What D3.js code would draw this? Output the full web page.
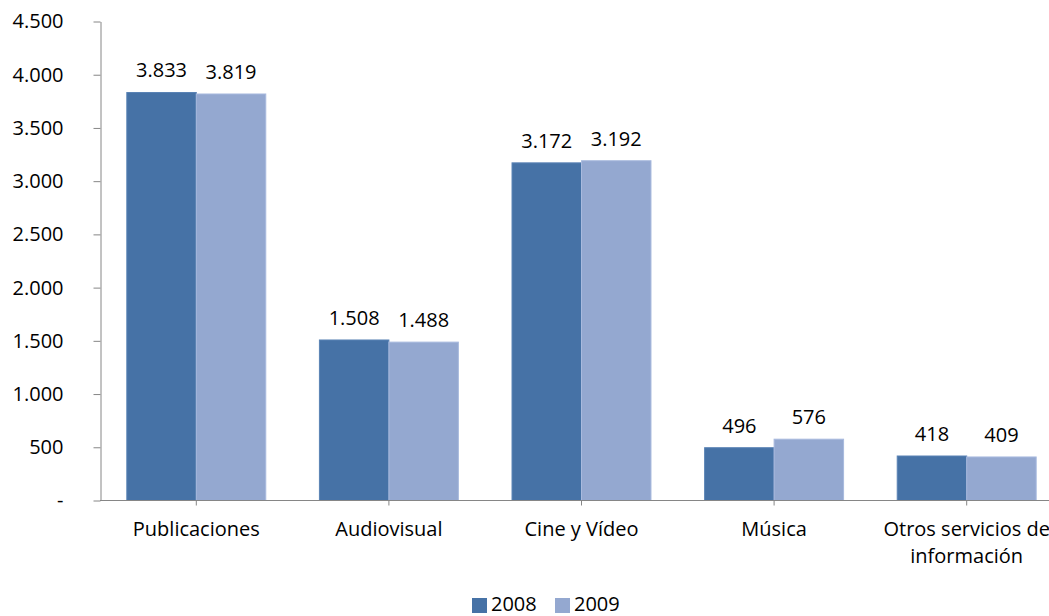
<!DOCTYPE html>
<html>
<head>
<meta charset="utf-8">
<script src="https://cdn.jsdelivr.net/npm/d3@7"></script>
<style>
  body { margin: 0; background: #fff; }
  text { font-family: "Open Sans", sans-serif; fill: #000; }
</style>
</head>
<body>
<svg id="chart"></svg>
<script>
var categories = ["Publicaciones", "Audiovisual", "Cine y Vídeo", "Música", "Otros servicios de|información"];
var series = ["2008", "2009"];
var values2008 = [3833, 1508, 3172, 496, 418];
var values2009 = [3819, 1488, 3192, 576, 409];
var yTicks = [0, 500, 1000, 1500, 2000, 2500, 3000, 3500, 4000, 4500];

var width = 1049, height = 616;
var colors = ["#4672A6", "#94A8D0"];
var fontSize = "20px";
var fmt = function(v) { return v === 0 ? "-" : d3.format(",")(v).replace(/,/g, "."); };

var svg = d3.select("#chart").attr("width", width).attr("height", height);

var x = d3.scaleBand().domain(d3.range(categories.length)).range([100, 1063]);
var inner = d3.scaleBand().domain(series).range([0, x.bandwidth()]).paddingInner(0).paddingOuter(0.386);
var y = d3.scaleLinear().domain([0, 4500]).range([500.5, 21.5]);

var data = categories.map(function(c, i) { return { i: i, vals: [values2008[i], values2009[i]] }; });

// y axis
var yAxis = svg.append("g").attr("transform", "translate(100.5,0)")
  .call(d3.axisLeft(y).tickValues(yTicks).tickFormat(fmt).tickSize(7).tickSizeOuter(0));
yAxis.select(".domain").attr("stroke", "#868686");
yAxis.selectAll(".tick line").attr("stroke", "#868686");
yAxis.selectAll(".tick text").attr("x", -37).style("font-size", fontSize).style("font-family", "Open Sans");

// bars
var groups = svg.selectAll("g.grp").data(data).enter().append("g")
  .attr("transform", function(d) { return "translate(" + x(d.i) + ",0)"; });
groups.selectAll("rect").data(function(d) { return d.vals.map(function(v, k) { return { v: v, k: k }; }); })
  .enter().append("rect")
  .attr("x", function(d) { return inner(series[d.k]); })
  .attr("width", inner.bandwidth())
  .attr("y", function(d) { return y(d.v); })
  .attr("height", function(d) { return y(0) - y(d.v); })
  .attr("fill", function(d) { return colors[d.k]; })
  .attr("stroke", function(d) { return d.k === 0 ? "#5a83b5" : "#a8bade"; })
  .attr("stroke-width", 1);
groups.selectAll("text.lbl").data(function(d) { return d.vals.map(function(v, k) { return { v: v, k: k }; }); })
  .enter().append("text").attr("class", "lbl")
  .attr("x", function(d) { return inner(series[d.k]) + inner.bandwidth() / 2; })
  .attr("y", function(d) { return y(d.v) - 15; })
  .attr("text-anchor", "middle")
  .style("font-size", fontSize)
  .text(function(d) { return fmt(d.v); });

// x axis
var xAxis = svg.append("g").attr("transform", "translate(0,500.5)");
xAxis.append("line").attr("x1", 100).attr("x2", width).attr("stroke", "#868686");
xAxis.selectAll("line.tk").data(data).enter().append("line")
  .attr("x1", function(d) { return x(d.i) + x.bandwidth() / 2; })
  .attr("x2", function(d) { return x(d.i) + x.bandwidth() / 2; })
  .attr("y1", 0).attr("y2", 5).attr("stroke", "#868686");
xAxis.selectAll("text").data(categories).enter().append("text")
  .attr("text-anchor", "middle")
  .attr("transform", function(d, i) { return "translate(" + (x(i) + x.bandwidth() / 2) + ",35)"; })
  .style("font-size", fontSize)
  .each(function(d) {
    var lines = d.split("|");
    var t = d3.select(this);
    lines.forEach(function(l, j) { t.append("tspan").attr("x", 0).attr("dy", j === 0 ? 0 : 27).text(l); });
  });

// legend
var legendX = [472, 555];
var legend = svg.selectAll("g.leg").data(series).enter().append("g")
  .attr("transform", function(d, i) { return "translate(" + legendX[i] + ",598)"; });
legend.append("rect").attr("width", 15).attr("height", 15).attr("fill", function(d, i) { return colors[i]; });
legend.append("text").attr("x", 19).attr("y", 13).style("font-size", fontSize).text(function(d) { return d; });
</script>
</body>
</html>
